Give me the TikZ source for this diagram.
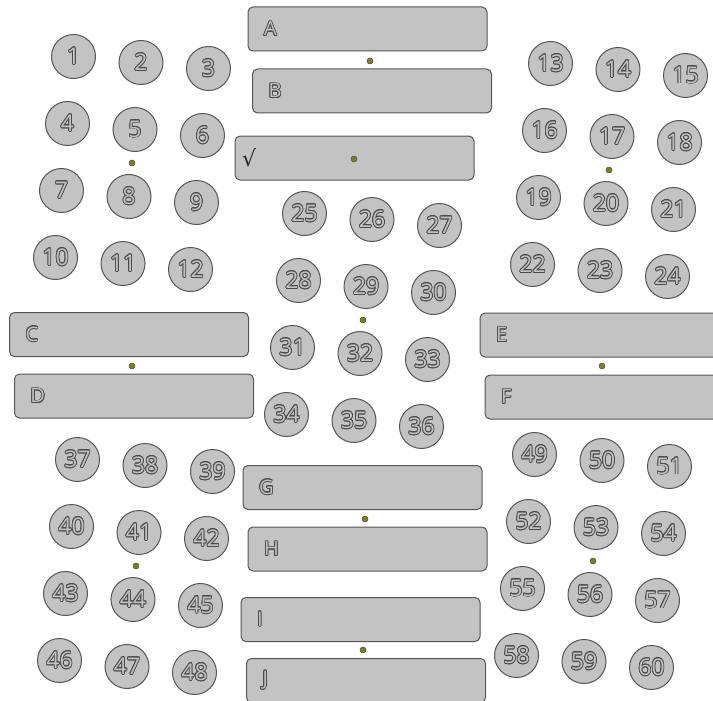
\documentclass[tikz,border=0pt]{standalone}
\usepackage{fontspec}
\setmainfont{Open Sans}
\newfontfamily\symfont{DejaVu Sans}
\usepackage[copies]{contour}
\contourlength{0.75pt}
\definecolor{fillg}{HTML}{C3C3C3}
\definecolor{edgeg}{HTML}{555555}
\definecolor{txtg}{HTML}{4A4A4A}
\definecolor{dotc}{HTML}{7F7F12}
\newcommand{\olt}[1]{\contour{txtg}{\textcolor{fillg}{#1}}}
\begin{document}
\begin{tikzpicture}[x=1pt,y=-1pt,
  disc/.style={circle, draw=edgeg, line width=1pt, fill=fillg, minimum size=44pt, inner sep=0pt, font=\fontsize{23}{23}\selectfont},
  bar/.style={rectangle, rounded corners=5pt, draw=edgeg, line width=1pt, fill=fillg, minimum width=239pt, minimum height=44pt, text width=207pt, inner xsep=16pt, align=left, font=\fontsize{20}{20}\selectfont},
  pin/.style={circle, draw=black!70, fill=dotc, minimum size=6pt, inner sep=0pt, line width=0.5pt}]
\useasboundingbox (0,0) rectangle (713,701);

% bars
\node[bar] (A) at (367.5,29) {\olt{A}};
\node[bar] (B) at (372,91) {\olt{B}};
\node[bar, inner xsep=7pt, text width=225pt] (S) at (354.5,158) {{\symfont\fontsize{22}{22}\selectfont\color{black!85}√}};
\node[bar] (C) at (129,334.5) {\olt{C}};
\node[bar] (D) at (134,396) {\olt{D}};
\node[bar] (E) at (599.5,335) {\olt{E}};
\node[bar] (F) at (604.5,397) {\olt{F}};
\node[bar] (G) at (362.5,487.5) {\olt{G}};
\node[bar] (H) at (367.5,549) {\olt{H}};
\node[bar] (I) at (360.5,619.5) {\olt{I}};
\node[bar] (J) at (366,680.5) {\olt{J}};

% numbered discs
\foreach \g/\cx/\cy in {0/132/163,1/609/170,2/363/320,3/136/566,4/593/561}{
  \foreach \i in {0,...,3}{
    \foreach \j in {0,1,2}{
      \pgfmathtruncatemacro{\n}{\g*12+\i*3+\j+1}
      \node[disc] (c\n) at ({\cx+(\j-1)*67.5-(\i-1.5)*6}, {\cy+(\j-1)*6+(\i-1.5)*67}) {\olt{\n}};
    }
  }
}

% pins
\node[pin] (d1) at (132,163) {};
\node[pin] (d2) at (370,61) {};
\node[pin] (d3) at (354,159) {};
\node[pin] (d4) at (609,170) {};
\node[pin] (d5) at (363,320) {};
\node[pin] (d6) at (132,366) {};
\node[pin] (d7) at (602,366) {};
\node[pin] (d8) at (136,566) {};
\node[pin] (d9) at (593,561) {};
\node[pin] (d10) at (365,519) {};
\node[pin] (d11) at (363,650) {};
\end{tikzpicture}
\end{document}
